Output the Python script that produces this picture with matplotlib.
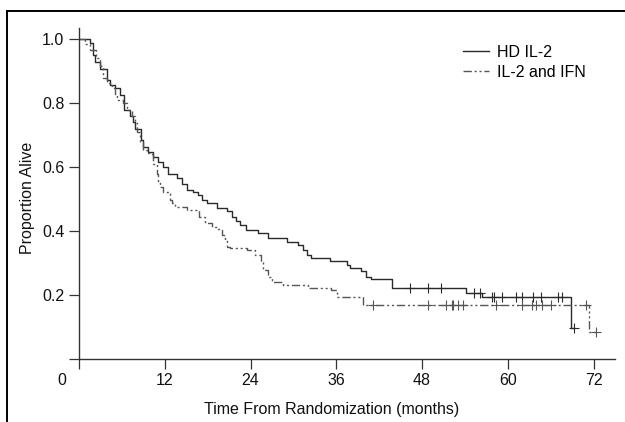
import numpy as np
import matplotlib
matplotlib.use('Agg')
import matplotlib.pyplot as plt
from matplotlib.lines import Line2D
from matplotlib.transforms import ScaledTranslation

# HD IL-2 (solid) - step times (months) and survival after each step
hd_t = [0, 1.5, 2.0, 2.3, 3.0, 3.9, 4.4, 5.0, 5.7, 6.3, 7.1, 7.6, 7.8, 8.7, 9.0, 9.7,
        10.4, 11.0, 11.8, 12.5, 13.7, 14.4, 15.1, 16.0, 16.7, 17.2, 17.9, 19.3, 20.7,
        21.4, 22.0, 22.5, 23.4, 25.1, 26.5, 29.1, 30.7, 31.4, 31.9, 32.4, 35.1, 37.5,
        37.9, 39.4, 40.1, 40.8, 43.8, 54.2, 56.4, 68.9]
hd_s = [1.0, 0.988, 0.95, 0.929, 0.906, 0.872, 0.856, 0.846, 0.825, 0.78, 0.76, 0.74,
        0.72, 0.684, 0.664, 0.648, 0.632, 0.615, 0.6, 0.578, 0.565, 0.546, 0.53, 0.522,
        0.512, 0.498, 0.488, 0.473, 0.463, 0.445, 0.432, 0.418, 0.403, 0.393, 0.377,
        0.367, 0.356, 0.34, 0.325, 0.315, 0.306, 0.295, 0.283, 0.274, 0.255, 0.25,
        0.221, 0.207, 0.195, 0.098]
hd_cens = [46.3, 48.9, 50.7, 55.3, 56.1, 57.8, 58.0, 59.2, 61.1, 62.0, 63.5, 64.6,
           67.0, 67.6, 69.2]

# IL-2 and IFN (dash-dot)
iv_t = [0, 0.9, 1.5, 2.4, 3.0, 3.4, 3.9, 4.6, 5.0, 5.3, 6.2, 6.7, 7.4, 7.9, 8.1, 8.6,
        9.0, 9.5, 10.2, 10.4, 10.9, 11.1, 11.3, 11.8, 12.7, 13.0, 13.5, 15.1, 16.8,
        17.6, 18.6, 19.5, 20.0, 20.4, 20.7, 21.1, 23.5, 24.6, 25.4, 25.8, 26.5, 27.0,
        28.6, 32.1, 35.2, 36.1, 39.8, 71.4]
iv_s = [1.0, 0.985, 0.966, 0.94, 0.915, 0.88, 0.862, 0.846, 0.83, 0.81, 0.80, 0.78,
        0.76, 0.739, 0.71, 0.68, 0.655, 0.645, 0.64, 0.611, 0.58, 0.554, 0.538, 0.523,
        0.497, 0.487, 0.476, 0.466, 0.445, 0.425, 0.413, 0.405, 0.388, 0.372, 0.351,
        0.346, 0.34, 0.325, 0.304, 0.278, 0.257, 0.242, 0.231, 0.221, 0.216, 0.195,
        0.169, 0.085]
iv_cens = [41.2, 48.9, 51.3, 52.2, 52.4, 53.1, 53.8, 58.4, 62.0, 63.4, 63.9, 64.8,
           66.0, 70.9, 72.4]

xticks = [0, 12, 24, 36, 48, 60, 72]
yticks = [0, 0.2, 0.4, 0.6, 0.8, 1.0]

plt.rcParams['font.family'] = ['Liberation Sans', 'DejaVu Sans']

fig = plt.figure(figsize=(6.25, 4.22), dpi=100)
ax = fig.add_axes([79/625, 1-359/422, 536/625, 331/422])


def km(ax, t, s, cens, **kw):
    t = np.array(t); s = np.array(s)
    xs = np.append(t, cens[-1])
    ys = np.append(s, s[-1])
    line, = ax.plot(xs, ys, drawstyle='steps-post', **kw)
    idx = np.searchsorted(t, cens, side='right') - 1
    ax.plot(cens, s[idx], ls='none', marker='+', ms=7, mew=0.8, color=kw['color'])
    return line


l1 = km(ax, hd_t, hd_s, hd_cens, color='#2a2a2a', lw=1.0, label='HD IL-2')
l2 = km(ax, iv_t, iv_s, iv_cens, color='#555555', lw=1.0, ls=(0, (6, 2, 1.5, 2, 1.5, 2)),
        label='IL-2 and IFN')

ax.set_xlim(0, 75)
ax.set_ylim(0, 1.035)
for sp in ['top', 'right']:
    ax.spines[sp].set_visible(False)
for sp in ['left', 'bottom']:
    ax.spines[sp].set_color('#333333')
    ax.spines[sp].set_linewidth(1.0)

ax.set_xticks(xticks)
ax.set_xticklabels([str(v) for v in xticks])
ax.set_yticks(yticks)
ax.set_yticklabels(['' if v == 0 else '%.1f' % v for v in yticks])
ax.tick_params(axis='both', length=7, width=0.9, color='#333333', labelsize=11.5,
               labelcolor='#111111')
ax.tick_params(axis='x', pad=3)
ax.tick_params(axis='y', pad=3.5)
# the "0" sits off to the left of the corner
lab0 = ax.get_xticklabels()[0]
lab0.set_transform(lab0.get_transform() + ScaledTranslation(-0.17, 0, fig.dpi_scale_trans))

ax.set_xlabel('Time From Randomization (months)', fontsize=11.5, color='#111111')
ax.set_ylabel('Proportion Alive', fontsize=11.5, color='#111111')
ax.xaxis.set_label_coords((332-79)/536, (359-402)/331)
ax.yaxis.set_label_coords((35-79)/536, (359-198)/331)

ax.legend(handles=[l1, l2], loc='upper left', bbox_to_anchor=(455/625, 1-37/422),
          bbox_transform=fig.transFigure, frameon=False, fontsize=11.5,
          handlelength=1.6, handletextpad=0.5, labelspacing=0.3, borderpad=0)

# scanned page frame (top and left edges)
fig.add_artist(Line2D([7/625, 1], [1-11/422, 1-11/422], color='black', lw=1.4))
fig.add_artist(Line2D([7/625, 7/625], [0, 1-11/422], color='black', lw=1.4))

fig.savefig('out.png', dpi=100)
